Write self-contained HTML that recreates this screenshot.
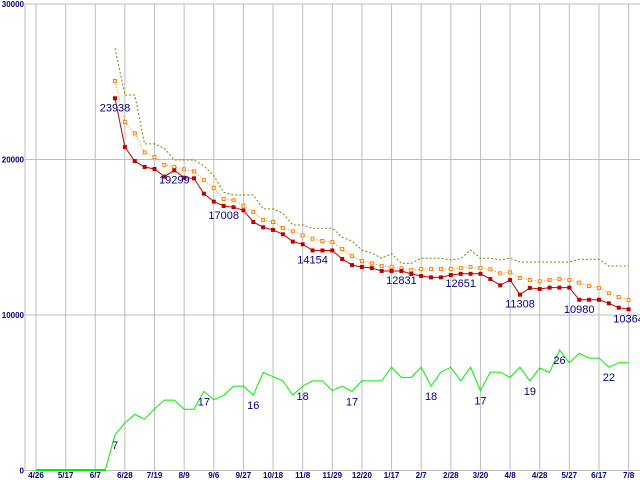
<!DOCTYPE html>
<html><head><meta charset="utf-8">
<style>
html,body{margin:0;padding:0;background:#fff;width:640px;height:480px;overflow:hidden}
svg{display:block;font-family:"Liberation Sans",sans-serif}
</style></head>
<body>
<svg id="chart" width="640" height="480" viewBox="0 0 640 480" xmlns="http://www.w3.org/2000/svg"></svg>
<script>
const xLabels=["4/26","5/17","6/7","6/28","7/19","8/9","9/6","9/27","10/18","11/8","11/29","12/20","1/17","2/7","2/28","3/20","4/8","4/28","5/27","6/17","7/8"];
const yTicks=[0,10000,20000,30000];
const redValues=[null,null,null,null,null,null,null,null,23938,20800,19900,19520,19390,18900,19299,18830,18790,17800,17290,17008,16930,16730,15980,15640,15470,15190,14720,14550,14154,14150,14150,13600,13210,13090,13020,12831,12831,12831,12640,12510,12420,12420,12570,12651,12651,12651,12310,11910,12250,11308,11740,11670,11760,11760,11760,10980,10980,10980,10750,10470,10364];
const orangeValues=[null,null,null,null,null,null,null,null,25050,22410,21680,20460,20160,19650,19520,19370,19240,18680,18170,17460,17380,17030,16620,16110,15980,15590,15380,15120,14910,14760,14690,14240,13790,13470,13320,13150,13090,13000,12890,12960,12960,12960,12960,13020,13090,13020,12940,12680,12750,12380,12250,12170,12250,12310,12250,12080,11860,11740,11400,11160,10960];
const oliveValues=[null,null,null,null,null,null,null,null,27150,24150,24150,21000,21000,20720,19970,19970,19970,19580,18960,17890,17720,17720,17720,16820,16820,16540,15790,15790,15580,15580,15580,15000,14760,14180,13970,13650,13940,13320,13320,13650,13650,13650,13540,13630,14180,13650,13650,13540,13650,13410,13410,13410,13410,13410,13410,13580,13580,13580,13150,13150,13150];
const greenValues=[0,0,0,0,0,0,0,0,2280,3070,3610,3290,3970,4530,4530,3940,3940,5090,4550,4830,5430,5430,4850,6310,6030,5760,4850,5430,5760,5760,5130,5430,5090,5760,5760,5760,6640,5990,5990,6640,5430,6330,6640,5760,6640,5130,6330,6330,5990,6640,5760,6600,6310,7750,6930,7530,7230,7230,6640,6930,6930];
const redLabelIdx=[8,14,19,28,37,43,49,55,60];
const redLabelText=["23938","19299","17008","14154","12831","12651","11308","10980","10364"];
const greenLabelIdx=[8,17,22,27,32,40,45,50,53,58];
const greenLabelText=["7","17","16","18","17","18","17","19","26","22"];

const svg=document.getElementById('chart');
const NS="http://www.w3.org/2000/svg";
const X0=36,DX=(628.6-36)/60,Y0=470.5,YS=466.5/30000;
function xs(i){return X0+i*DX;}
function ys(v){return Y0-v*YS;}
function mk(tag,attrs,parent){const e=document.createElementNS(NS,tag);for(const k in attrs)e.setAttribute(k,attrs[k]);(parent||svg).appendChild(e);return e;}

const grid=mk('g',{});


yTicks.forEach(t=>{
  const l=mk('line',{x1:25,x2:640,y1:ys(t),y2:ys(t),stroke:'#bdbdbd','stroke-width':1},grid);
  
  
  const tx=mk('text',{x:24,y:ys(t)+3,'text-anchor':'end','font-size':8,'font-weight':'bold',fill:'#000080'});
  tx.textContent=String(t);
  
  
});
xLabels.forEach((lab,k)=>{
  const x=xs(k*3);
  const l=mk('line',{x1:x,x2:x,y1:4,y2:470,stroke:'#bdbdbd','stroke-width':1},grid);
  
  
  const tx=mk('text',{x:x,y:478,'text-anchor':'middle','font-size':8,'font-weight':'bold',fill:'#000080'});
  tx.textContent=lab;
  
  
});
const ax=mk('line',{x1:25,x2:25,y1:4,y2:471,stroke:'#bdbdbd','stroke-width':1});



function series(vals,color,dash,name,width){
  const pts=[];vals.forEach((v,i)=>{if(v!==null)pts.push(xs(i).toFixed(1)+','+ys(v).toFixed(1));});
  const p=mk('polyline',{points:pts.join(' '),fill:'none',stroke:color,'stroke-width':width||1});
  if(dash)p.setAttribute('stroke-dasharray',dash);
  
  
}
series(oliveValues,'#808000','2,2','olive-series-line');
series(orangeValues,'#ff8000','1,2','orange-series-line');
orangeValues.forEach((v,i)=>{if(v===null)return;
  const r=mk('rect',{x:xs(i)-1.5,y:ys(v)-1.5,width:3,height:3,fill:'#fff',stroke:'#ff8000','stroke-width':1});
  
  
});
series(redValues,'#c00000',null,'red-series-line');
redValues.forEach((v,i)=>{if(v===null)return;
  const r=mk('rect',{x:xs(i)-2,y:ys(v)-2,width:4,height:4,fill:'#c00000'});
  
  
});
series(greenValues,'#00ee00',null,'green-series-line');
const gz=mk('line',{x1:xs(0),x2:xs(7),y1:ys(0)-0.5,y2:ys(0)-0.5,stroke:'#00ee00','stroke-width':2});



redLabelIdx.forEach((idx,k)=>{
  const t=mk('text',{x:xs(idx),y:ys(redValues[idx])+13,'text-anchor':'middle','font-size':11,fill:'#000080'});
  t.textContent=redLabelText[k];
  
  
});
greenLabelIdx.forEach((idx,k)=>{
  const t=mk('text',{x:xs(idx),y:ys(greenValues[idx])+14,'text-anchor':'middle','font-size':11,fill:'#000080'});
  t.textContent=greenLabelText[k];
  
  
});
</script>
</body></html>
